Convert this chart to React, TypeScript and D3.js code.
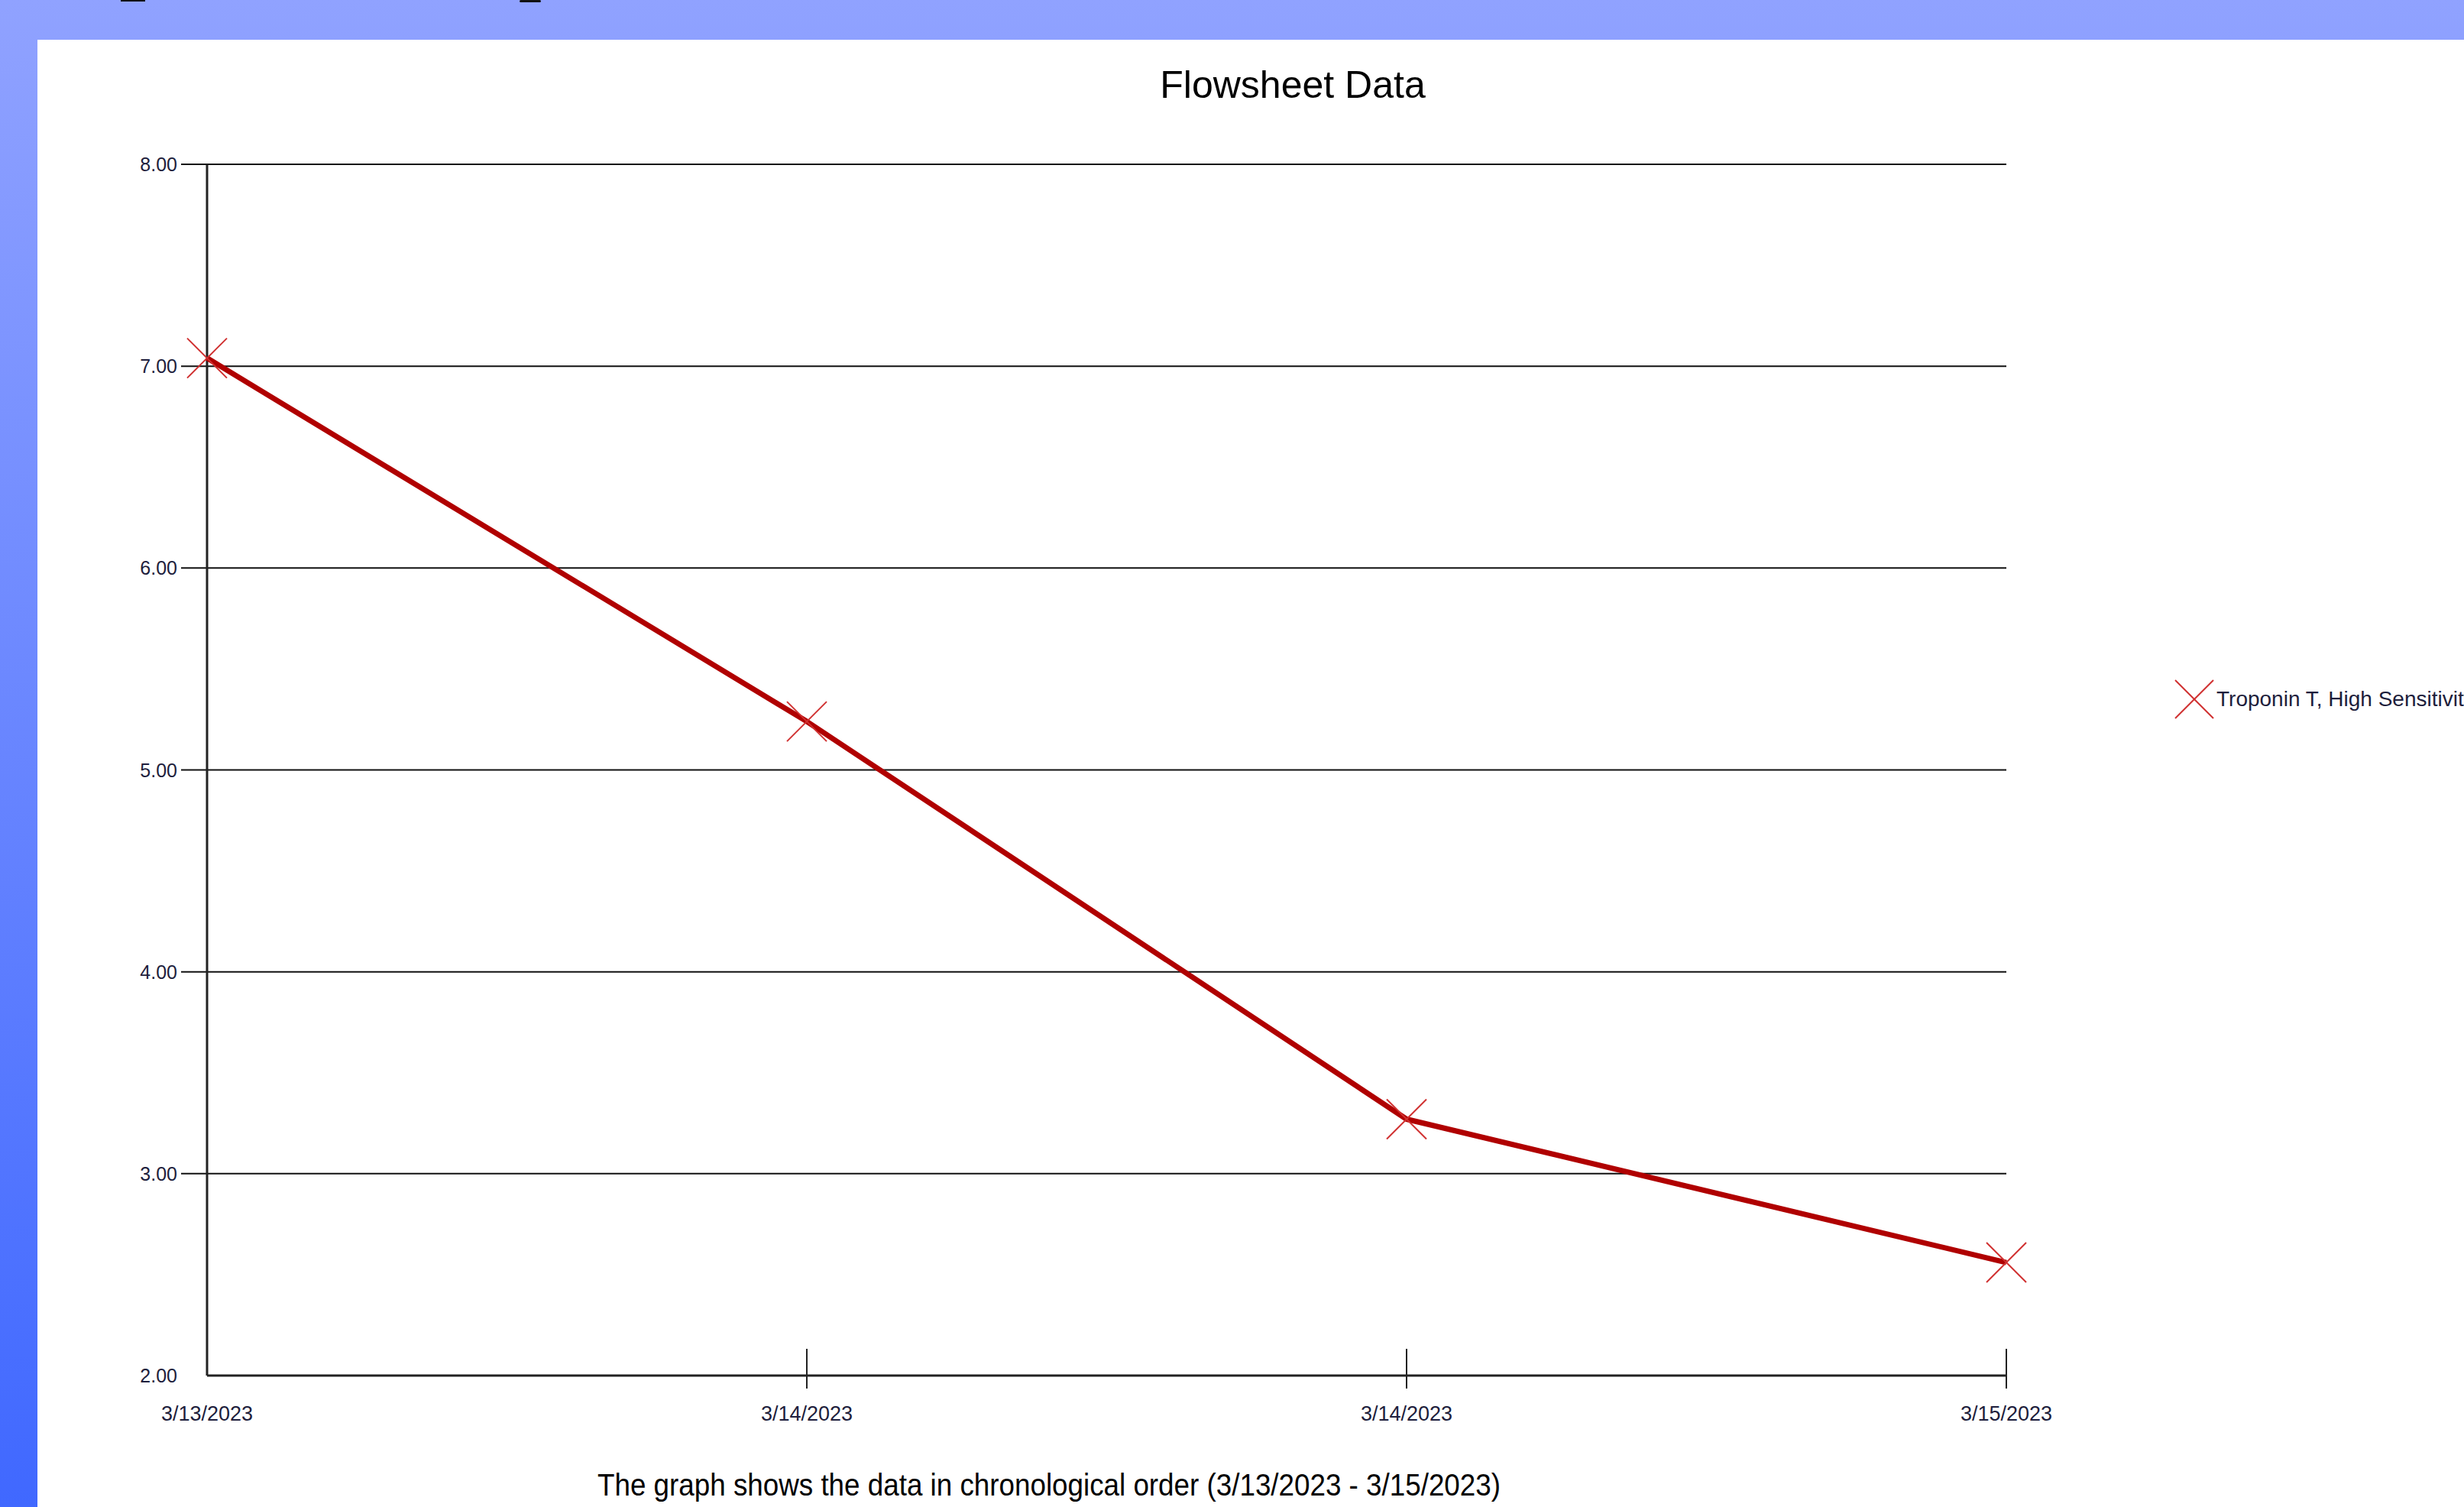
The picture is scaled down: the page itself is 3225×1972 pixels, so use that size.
import React from "react";
import * as d3 from "d3";

const W = 3225;
const H = 1972;

const categories: string[] = ["3/13/2023", "3/14/2023", "3/14/2023", "3/15/2023"];
const values: number[] = [7.04, 5.24, 3.27, 2.56];
const yTicks: number[] = [2, 3, 4, 5, 6, 7, 8];
const seriesName = "Troponin T, High Sensitivity";
const title = "Flowsheet Data";
const caption = "The graph shows the data in chronological order (3/13/2023 - 3/15/2023)";

export default function App() {
  const left = 271;
  const right = 2626;
  const top = 215;
  const bottom = 1800;
  const x = d3.scalePoint<number>().domain(d3.range(categories.length)).range([left, right]);
  const y = d3.scaleLinear().domain([2, 8]).range([bottom, top]);
  const line = d3
    .line<number>()
    .x((_, i) => x(i) as number)
    .y((d) => y(d));
  const font = "'Liberation Sans', Arial, sans-serif";
  const labelColor = "#1e1e3c";
  const mk = 26;

  return (
    <svg
      width={W}
      height={H}
      style={{ position: "absolute", left: 0, top: 0, display: "block" }}
      fontFamily={font}
    >
      <defs>
        <linearGradient id="bg" x1="0" y1="0" x2="0" y2="1">
          <stop offset="0" stopColor="#90a2ff" />
          <stop offset="1" stopColor="#4068ff" />
        </linearGradient>
      </defs>
      <rect x={0} y={0} width={W} height={H} fill="url(#bg)" />
      <rect x={49} y={52} width={W - 49} height={H - 52} fill="#ffffff" />
      {/* cut-off text fragments at top edge */}
      <rect x={158} y={0} width={32} height={2} fill="#111" />
      <rect x={680} y={0} width={28} height={3} rx={1.5} fill="#111" />

      <text x={1692} y={128} textAnchor="middle" fontSize={50} fill="#000">
        {title}
      </text>

      {/* grid lines and y ticks */}
      {yTicks.map((t) => (
        <g key={t}>
          {t !== 2 && (
            <line x1={left - 34} x2={right} y1={y(t)} y2={y(t)} stroke="#111" strokeWidth={2} />
          )}
          <text
            x={232}
            y={y(t)}
            dy="0.36em"
            textAnchor="end"
            fontSize={25}
            fill={labelColor}
          >
            {t.toFixed(2)}
          </text>
        </g>
      ))}

      {/* axes */}
      <line x1={left} x2={left} y1={top} y2={bottom} stroke="#222" strokeWidth={3} />
      <line x1={left} x2={right} y1={bottom} y2={bottom} stroke="#222" strokeWidth={3} />

      {/* x ticks */}
      {categories.map((c, i) => (
        <g key={i}>
          {i > 0 && (
            <line
              x1={x(i) as number}
              x2={x(i) as number}
              y1={bottom - 35}
              y2={bottom + 17}
              stroke="#222"
              strokeWidth={2}
            />
          )}
          <text x={x(i) as number} y={1859} textAnchor="middle" fontSize={27} fill={labelColor}>
            {c}
          </text>
        </g>
      ))}

      {/* series line */}
      <path d={line(values) || ""} fill="none" stroke="#b00000" strokeWidth={7} strokeLinejoin="round" />

      {/* markers */}
      {values.map((v, i) => {
        const cx = x(i) as number;
        const cy = y(v);
        return (
          <g key={i} stroke="#d03030" strokeWidth={2}>
            <line x1={cx - mk} y1={cy - mk} x2={cx + mk} y2={cy + mk} />
            <line x1={cx - mk} y1={cy + mk} x2={cx + mk} y2={cy - mk} />
          </g>
        );
      })}

      {/* legend */}
      <g stroke="#d03030" strokeWidth={2}>
        <line x1={2872 - 25} y1={915 - 25} x2={2872 + 25} y2={915 + 25} />
        <line x1={2872 - 25} y1={915 + 25} x2={2872 + 25} y2={915 - 25} />
      </g>
      <text x={2901} y={924} fontSize={28} fill={labelColor}>
        {seriesName}
      </text>

      <text
        x={782}
        y={1957}
        fontSize={40}
        fill="#000"
        textLength={1182}
        lengthAdjust="spacingAndGlyphs"
      >
        {caption}
      </text>
    </svg>
  );
}
